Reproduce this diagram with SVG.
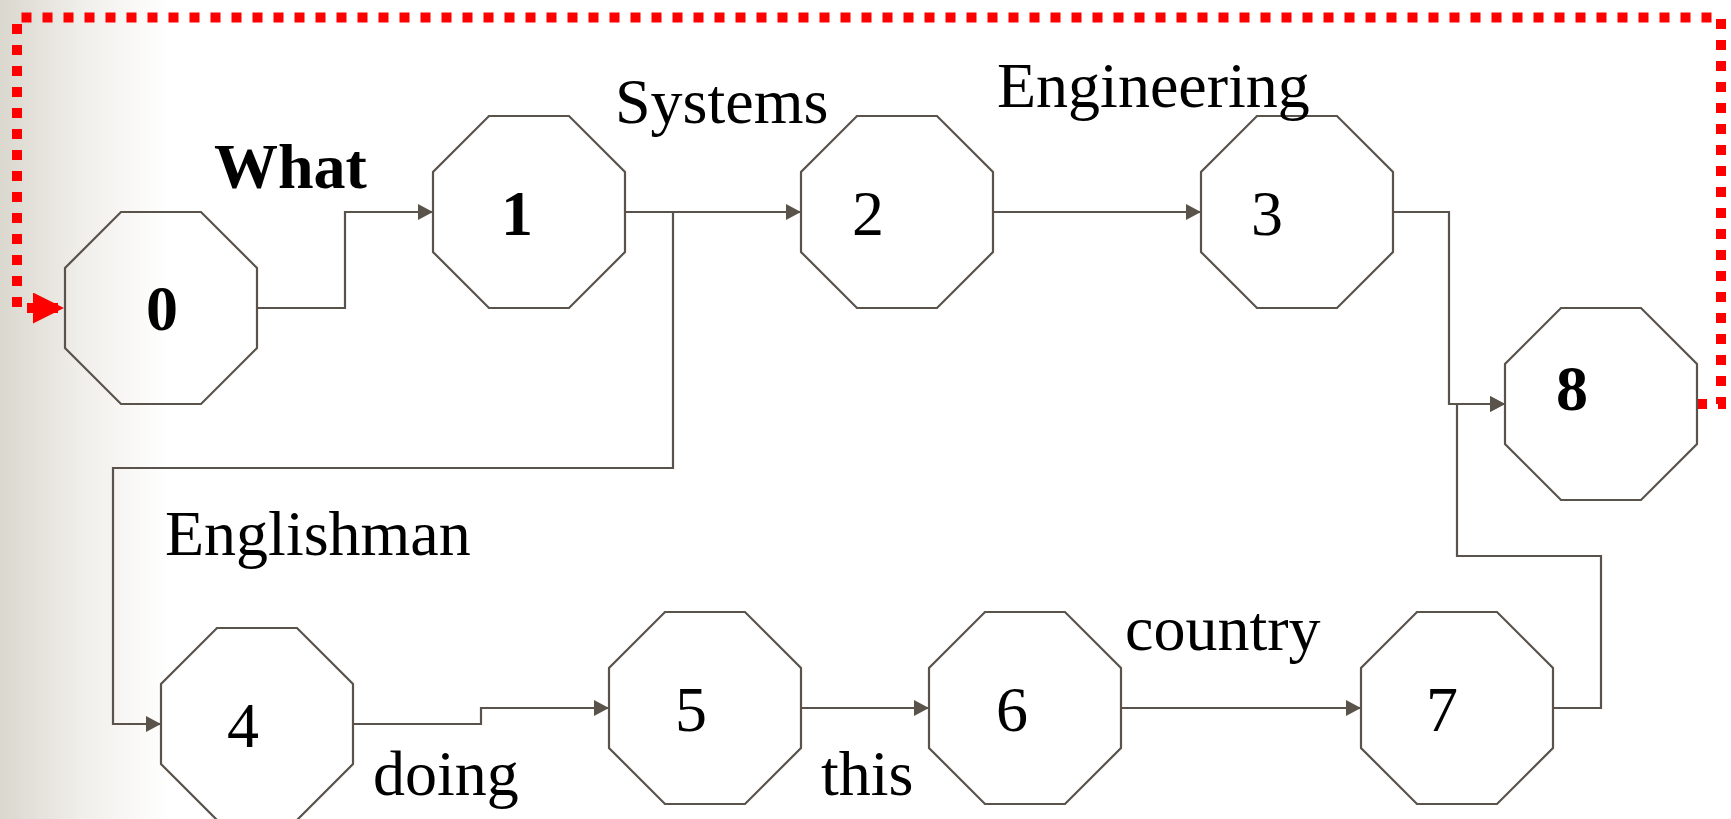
<svg xmlns="http://www.w3.org/2000/svg" xmlns:xlink="http://www.w3.org/1999/xlink" width="1731" height="819" viewBox="0 0 1731 819">
  <style>
    .oct { fill: none; stroke: #5a534c; stroke-width: 2.2; }
    .edge { fill: none; stroke: #5a534c; stroke-width: 2.2; }
    .loop { fill: none; stroke: #ff0000; stroke-width: 10; stroke-dasharray: 10 11; }
    text { font-family: "Liberation Serif", "Times New Roman", serif; font-size: 64px; fill: #000; }
    .b { font-weight: bold; }
    .num { text-anchor: middle; }
  </style>
  <defs>
    <linearGradient id="bg" x1="0" y1="0" x2="1" y2="0" gradientUnits="objectBoundingBox">
      <stop offset="0" stop-color="#dad7ce"/>
      <stop offset="0.5" stop-color="#f1efeb"/>
      <stop offset="1" stop-color="#ffffff"/>
    </linearGradient>
    <polygon id="octShape" points="56,0 136,0 192,56 192,136 136,192 56,192 0,136 0,56"/>
    <marker id="arr" markerUnits="userSpaceOnUse" markerWidth="16" markerHeight="17" refX="15" refY="8" orient="auto" viewBox="0 0 16 17">
      <path d="M0,0 L15,8 L0,16 z" fill="#5a534c"/>
    </marker>
    <marker id="redArr" markerUnits="userSpaceOnUse" markerWidth="32" markerHeight="32" refX="31" refY="15.5" orient="auto" viewBox="0 0 32 32">
      <path d="M0,0 L31,15.5 L0,31 z" fill="#ff0000"/>
    </marker>
  </defs>

  <rect x="0" y="0" width="1731" height="819" fill="#ffffff"/>
  <rect x="0" y="0" width="168" height="819" fill="url(#bg)"/>

  <g id="connectors">
    <path class="edge" d="M257,308 H345 V212 H433" marker-end="url(#arr)"/>
    <path class="edge" d="M625,212 H801" marker-end="url(#arr)"/>
    <path class="edge" d="M673,212 V468 H113 V724 H161" marker-end="url(#arr)"/>
    <path class="edge" d="M993,212 H1201" marker-end="url(#arr)"/>
    <path class="edge" d="M1393,212 H1449 V404 H1505" marker-end="url(#arr)"/>
    <path class="edge" d="M1553,708 H1601 V556 H1457 V404 H1505" marker-end="url(#arr)"/>
    <path class="edge" d="M353,724 H481 V708 H609" marker-end="url(#arr)"/>
    <path class="edge" d="M801,708 H929" marker-end="url(#arr)"/>
    <path class="edge" d="M1121,708 H1361" marker-end="url(#arr)"/>
    <path class="loop" d="M1697,404 H1721 V17.5 H17 V308 H64" marker-end="url(#redArr)"/>
  </g>

  <g id="node0"><use xlink:href="#octShape" class="oct" x="65" y="212"/><text class="num b" x="162" y="330">0</text></g>
  <g id="node1"><use xlink:href="#octShape" class="oct" x="433" y="116"/><text class="num b" x="517" y="235">1</text></g>
  <g id="node2"><use xlink:href="#octShape" class="oct" x="801" y="116"/><text class="num" x="868" y="235">2</text></g>
  <g id="node3"><use xlink:href="#octShape" class="oct" x="1201" y="116"/><text class="num" x="1267" y="235">3</text></g>
  <g id="node8"><use xlink:href="#octShape" class="oct" x="1505" y="308"/><text class="num b" x="1572" y="410">8</text></g>
  <g id="node4"><use xlink:href="#octShape" class="oct" x="161" y="628"/><text class="num" x="243" y="747">4</text></g>
  <g id="node5"><use xlink:href="#octShape" class="oct" x="609" y="612"/><text class="num" x="691" y="731">5</text></g>
  <g id="node6"><use xlink:href="#octShape" class="oct" x="929" y="612"/><text class="num" x="1012" y="731">6</text></g>
  <g id="node7"><use xlink:href="#octShape" class="oct" x="1361" y="612"/><text class="num" x="1442" y="731">7</text></g>

  <g id="labels">
    <text class="b" x="214" y="188">What</text>
    <text x="615" y="123">Systems</text>
    <text x="997" y="107">Engineering</text>
    <text x="165" y="555">Englishman</text>
    <text x="373" y="795">doing</text>
    <text x="821" y="795">this</text>
    <text x="1125" y="650">country</text>
  </g>
</svg>
